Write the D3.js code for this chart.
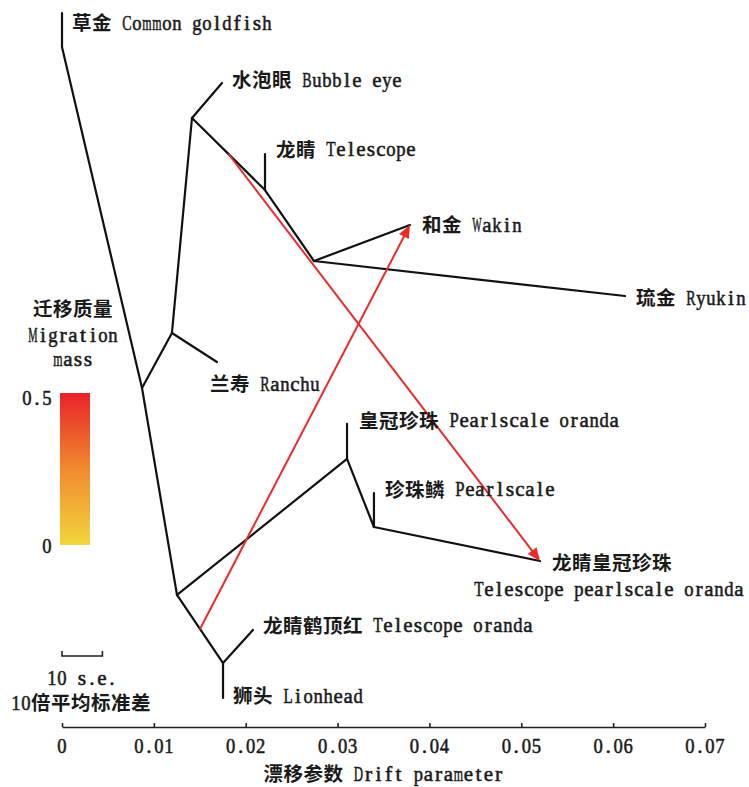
<!DOCTYPE html>
<html>
<head>
<meta charset="utf-8">
<script src="https://cdn.jsdelivr.net/npm/d3@7"></script>
<style>
  html, body { margin: 0; padding: 0; background: #fff; }
  svg { display: block; }
</style>
</head>
<body>
<svg id="chart" width="749" height="787"></svg>
<script>
// ---- tree nodes: drift (x) and vertical layout position (0 = top, 100 = bottom)
const nodeIds = ["cgTip","cg","root","n1","n2","bubble","telTip","tel","ranchu","n3","wakin","ryukin",
                 "n4","n5","poTip","n7","psTip","tpo","n6","teleOranda","lion"];
const nodeDrift = [0, 0, 0.00871, 0.01197, 0.01415, 0.01742, 0.0221, 0.0221, 0.01687, 0.02743, 0.03788, 0.06129,
                   0.01252, 0.03103, 0.03103, 0.03396, 0.03396, 0.05204, 0.01753, 0.02079, 0.01753];
const nodeRow = [0, 4.86, 53.57, 45.71, 15, 10, 20.14, 25.29, 49.86, 35.43, 30.29, 40.43,
                 83.14, 63.71, 58.71, 73.43, 68.57, 78.29, 92.86, 88.14, 97.86];

// ---- branches (parent -> child)
const edges = [
  ["cgTip","cg"],["cg","root"],["root","n1"],["root","n4"],["n1","n2"],["n1","ranchu"],
  ["n2","bubble"],["n2","tel"],["telTip","tel"],["tel","n3"],["n3","wakin"],["n3","ryukin"],
  ["n4","n5"],["n4","n6"],["n5","poTip"],["n5","n7"],["n7","psTip"],["n7","tpo"],
  ["n6","teleOranda"],["n6","lion"]
];

// ---- population labels (anchor node, text, offset from the node)
const labelNode = ["cgTip","bubble","telTip","wakin","ryukin","ranchu","poTip","psTip","tpo","tpo","teleOranda","lion"];
const labelText = ["草金 Common goldfish","水泡眼 Bubble eye","龙睛 Telescope","和金 Wakin","琉金 Ryukin",
                   "兰寿 Ranchu","皇冠珍珠 Pearlscale oranda","珍珠鳞 Pearlscale","龙睛皇冠珍珠",
                   "Telescope pearlscale oranda","龙睛鹤顶红 Telescope oranda","狮头 Lionhead"];
const labelOffset = [[10,9],[10,-4],[11,-5],[12,-1],[11,1],[-7,21],[12,-4],[11,-4],[12,1],[-66,27],[10,-5],[10,-3]];

// ---- migration events: source edge, position along it, target node, weight
const migEdge = [["n2","tel"],["n4","n6"]];
const migFrac = [0.5, 0.5];
const migTarget = ["tpo","wakin"];
const migWeight = [0.48, 0.48];

// ---- axis and legend
const driftTicks = [0, 0.01, 0.02, 0.03, 0.04, 0.05, 0.06, 0.07];
const tickLabels = ["0","0.01","0.02","0.03","0.04","0.05","0.06","0.07"];
const weightStops = [0, 0.25, 0.5];
const weightColors = ["#f2d63b", "#f18a2e", "#e9232a"];
const seUnit = 0.00044; // drift length of 10 standard errors

const svg = d3.select("#chart");
const x = d3.scaleLinear().domain([0, 0.07]).range([62, 705]);
const y = d3.scaleLinear().domain([0, 100]).range([13, 713]);
const weightColor = d3.scaleLinear().domain(weightStops).range(weightColors);

const pos = {};
nodeIds.forEach((id, i) => { pos[id] = [x(nodeDrift[i]), y(nodeRow[i])]; });

const CJK = /[\u3000-\u9fff\uff00-\uffef]/;
const cjkFont = "'Noto Sans CJK SC', 'Noto Sans CJK JP', sans-serif";
const latinFont = "'Liberation Serif', 'DejaVu Serif', serif";
const latinSize = 21.5;

// natural advance of each Latin glyph, measured once
const glyphW = {};
const probe = svg.append("text").attr("font-family", latinFont).attr("font-size", latinSize)
  .attr("visibility", "hidden");
function advance(c) {
  if (!(c in glyphW)) { probe.text(c); glyphW[c] = probe.node().getComputedTextLength(); }
  return glyphW[c];
}

// lay out mixed Chinese / Latin text on a full-width / half-width grid
function mixedText(g, x0, yc, str, anchor) {
  const em = 20, half = 10, fit = 9.3;
  const runs = [];
  for (const ch of str) {
    const isC = CJK.test(ch);
    const last = runs[runs.length - 1];
    if (last && last.cjk === isC) last.s += ch; else runs.push({ cjk: isC, s: ch });
  }
  const total = runs.reduce((a, r) => a + [...r.s].length * (r.cjk ? em : half), 0);
  let cx = anchor === "middle" ? x0 - total / 2 : anchor === "end" ? x0 - total : x0;
  const base = yc + 7.5;
  runs.forEach(r => {
    const chars = [...r.s];
    if (r.cjk) {
      g.append("text").attr("x", cx).attr("y", base + 0.5)
        .attr("font-family", cjkFont).attr("font-size", 19.5).attr("font-weight", 700)
        .attr("letter-spacing", 0.5).attr("fill", "#1a1a1a").text(r.s);
      cx += chars.length * em;
    } else {
      // every Latin glyph is centred in its own half-width cell, squeezed when too wide
      const t = g.append("text").attr("y", base)
        .attr("font-family", latinFont).attr("font-size", latinSize)
        .attr("fill", "#1a1a1a").attr("stroke", "#1a1a1a").attr("stroke-width", 0.55);
      chars.forEach((c, k) => {
        if (c === " ") return;
        const w = Math.min(advance(c), fit);
        const ts = t.append("tspan").attr("x", cx + k * half + (half - w) / 2).text(c);
        if (advance(c) > fit) ts.attr("textLength", fit).attr("lengthAdjust", "spacingAndGlyphs");
      });
      cx += chars.length * half;
    }
  });
}

// ---- tree branches
svg.append("g").selectAll("line").data(edges).join("line")
  .attr("x1", d => pos[d[0]][0]).attr("y1", d => pos[d[0]][1])
  .attr("x2", d => pos[d[1]][0]).attr("y2", d => pos[d[1]][1])
  .attr("stroke", "#111").attr("stroke-width", 2.2).attr("stroke-linecap", "round");

// ---- migration arrows
const defs = svg.append("defs");
const migG = svg.append("g");
migEdge.forEach((e, i) => {
  const a = pos[e[0]], b = pos[e[1]], t = migFrac[i];
  const sx = a[0] + (b[0] - a[0]) * t, sy = a[1] + (b[1] - a[1]) * t;
  const [tx, ty] = pos[migTarget[i]];
  const col = weightColor(migWeight[i]);
  const ang = Math.atan2(ty - sy, tx - sx);
  const L = 13, Wd = 5.5;
  migG.append("line")
    .attr("x1", sx).attr("y1", sy)
    .attr("x2", tx - (L - 2) * Math.cos(ang)).attr("y2", ty - (L - 2) * Math.sin(ang))
    .attr("stroke", col).attr("stroke-width", 2);
  const bx = tx - L * Math.cos(ang), by = ty - L * Math.sin(ang);
  const pts = [[tx, ty],
    [bx + Wd * Math.sin(ang), by - Wd * Math.cos(ang)],
    [bx - Wd * Math.sin(ang), by + Wd * Math.cos(ang)]];
  migG.append("polygon").attr("points", pts.map(p => p.join(",")).join(" ")).attr("fill", col);
});

// ---- population labels
const labG = svg.append("g");
labelNode.forEach((n, i) => {
  mixedText(labG, pos[n][0] + labelOffset[i][0], pos[n][1] + labelOffset[i][1], labelText[i], "start");
});

// ---- drift axis
const axisY = 727;
const axis = d3.axisBottom(x).tickValues(driftTicks).tickSizeInner(-4).tickSizeOuter(0).tickFormat(() => "");
const axG = svg.append("g").attr("transform", `translate(0,${axisY})`).call(axis);
axG.select(".domain").attr("stroke", "#222").attr("stroke-width", 1.6);
axG.selectAll(".tick line").attr("stroke", "#222").attr("stroke-width", 1.6);
axG.selectAll(".tick text").remove();
const tickG = svg.append("g");
driftTicks.forEach((v, i) => mixedText(tickG, x(v), 745, tickLabels[i], "middle"));
mixedText(svg.append("g"), (x.range()[0] + x.range()[1]) / 2, 773, "漂移参数 Drift parameter", "middle");

// ---- migration weight legend
const legG = svg.append("g");
mixedText(legG, 73, 308, "迁移质量", "middle");
mixedText(legG, 73, 334, "Migration", "middle");
mixedText(legG, 73, 358, "mass", "middle");
const barTop = 393, barBot = 545, barX = 60, barW = 30;
const wy = d3.scaleLinear().domain([0, 0.5]).range([barBot, barTop]);
const grad = defs.append("linearGradient").attr("id", "wgrad")
  .attr("x1", 0).attr("y1", 1).attr("x2", 0).attr("y2", 0);
weightStops.forEach((s, i) => grad.append("stop").attr("offset", s / 0.5).attr("stop-color", weightColors[i]));
legG.append("rect").attr("x", barX).attr("y", wy(0.5)).attr("width", barW).attr("height", wy(0) - wy(0.5))
  .attr("fill", "url(#wgrad)");
mixedText(legG, 52, wy(0.5) + 4, "0.5", "end");
mixedText(legG, 52, wy(0), "0", "end");

// ---- standard error scale bar
const sbY = 656, sbX0 = 62, sbX1 = 62 + (x(seUnit * 100) - x(0)) / 10;
legG.append("path")
  .attr("d", `M${sbX0},${sbY - 5}V${sbY}H${sbX1}V${sbY - 5}`)
  .attr("fill", "none").attr("stroke", "#222").attr("stroke-width", 1.6);
mixedText(legG, 82, 677, "10 s.e.", "middle");
mixedText(legG, 81, 702, "10倍平均标准差", "middle");
probe.remove();
</script>
</body>
</html>
